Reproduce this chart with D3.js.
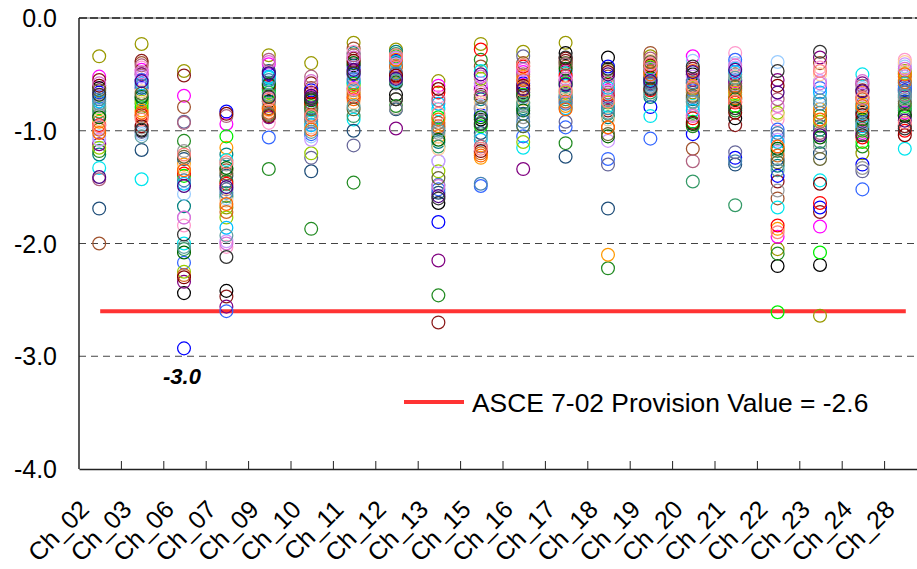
<!DOCTYPE html>
<html>
<head>
<meta charset="utf-8">
<script src="https://cdn.jsdelivr.net/npm/d3@7"></script>
<style>
  body { margin: 0; background: #fff; }
  svg { display: block; font-family: Arial, "Liberation Sans", sans-serif; }
</style>
</head>
<body>
<div id="chart"></div>
<script>
"use strict"

// Channels along the x axis
var categories = ["Ch_02", "Ch_03", "Ch_06", "Ch_07", "Ch_09", "Ch_10", "Ch_11", "Ch_12", "Ch_13", "Ch_15",
                  "Ch_16", "Ch_17", "Ch_18", "Ch_19", "Ch_20", "Ch_21", "Ch_22", "Ch_23", "Ch_24", "Ch_28"];

var yTicks = [0, -1, -2, -3, -4];

// ASCE provision value (red reference line)
var provisionValue = -2.6;
var provisionLabel = "ASCE 7-02 Provision Value = -2.6";
var minLabel = "-3.0";
var minCategory = "Ch_06";

// One value per series (36 series) for each channel
var ch02 = [-0.34, -0.52, -2.00, -0.55, -0.62, -0.66, -1.21, -1.18, -0.92, -1.33, -1.12, -0.98, -1.05, -1.69, -0.80, -0.70, -0.95, -0.86,
            -1.15, -0.83, -1.08, -0.90, -0.78, -0.74, -1.43, -0.99, -0.88, -0.72, -0.60, -1.02, -0.58, -0.64, -0.76, -1.41, -0.96, -0.68];
var ch03 = [-0.23, -0.46, -0.40, -0.38, -1.00, -0.62, -0.72, -0.76, -0.82, -1.43, -0.50, -0.44, -1.03, -1.17, -0.79, -0.55, -0.86, -1.01,
            -0.74, -0.69, -0.52, -0.65, -0.97, -0.58, -0.42, -0.88, -0.70, -0.60, -0.96, -0.84, -0.48, -0.67, -1.05, -0.56, -0.90, -0.99];
var ch06 = [-0.47, -0.69, -0.79, -0.51, -2.44, -2.93, -1.67, -1.09, -1.30, -2.00, -2.34, -1.84, -1.56, -1.25, -1.40, -2.17, -1.38, -0.92,
            -2.25, -2.05, -1.77, -1.32, -1.18, -1.47, -0.93, -2.28, -2.08, -1.44, -2.30, -1.35, -1.77, -1.23, -2.03, -1.49, -1.21, -1.92];
var ch07 = [-1.68, -0.94, -1.35, -2.47, -2.42, -0.83, -1.21, -1.45, -1.15, -1.26, -2.56, -2.03, -1.60, -1.40, -1.05, -2.60, -1.47, -1.52,
            -1.77, -1.58, -1.98, -1.62, -1.30, -1.86, -0.87, -1.72, -1.33, -1.55, -0.85, -1.65, -2.00, -1.38, -1.93, -1.50, -1.28, -2.12];
var ch09 = [-0.33, -0.41, -0.80, -0.62, -0.74, -0.50, -0.64, -1.34, -0.78, -0.53, -0.88, -0.93, -0.57, -0.47, -0.66, -1.06, -0.60, -0.85,
            -0.69, -0.58, -0.71, -0.82, -0.76, -0.52, -0.37, -0.84, -0.59, -0.55, -0.87, -0.81, -0.39, -0.86, -0.68, -0.49, -0.72, -0.70];
var ch10 = [-0.40, -0.70, -0.62, -0.58, -0.75, -0.64, -0.80, -1.87, -0.92, -0.82, -0.72, -0.68, -1.05, -1.36, -0.78, -1.03, -0.76, -1.24,
            -1.20, -0.88, -1.08, -0.97, -0.84, -0.95, -0.52, -0.86, -0.73, -0.90, -0.66, -0.99, -0.56, -0.81, -1.01, -0.69, -0.87, -0.71];
var ch11 = [-0.22, -0.62, -0.27, -0.36, -0.42, -0.50, -0.31, -1.46, -0.66, -0.90, -0.47, -0.30, -0.55, -1.00, -0.58, -0.44, -0.70, -1.13,
            -0.60, -0.87, -0.52, -0.75, -0.64, -0.57, -0.33, -0.68, -0.40, -0.54, -0.38, -0.72, -0.35, -0.81, -0.78, -0.46, -0.63, -0.49];
var ch12 = [-0.28, -0.45, -0.50, -0.40, -0.68, -0.38, -0.30, -0.78, -0.42, -0.55, -0.98, -0.47, -0.36, -0.81, -0.34, -0.44, -0.52, -0.58,
            -0.48, -0.32, -0.41, -0.46, -0.80, -0.39, -0.53, -0.43, -0.57, -0.49, -0.51, -0.37, -0.35, -0.72, -0.56, -0.54, -0.33, -0.72];
var ch13 = [-0.56, -0.60, -0.93, -2.70, -1.64, -1.81, -1.10, -2.46, -1.05, -0.81, -2.15, -0.70, -1.27, -1.55, -0.88, -1.52, -0.66, -0.98,
            -1.36, -1.14, -1.27, -1.16, -1.02, -0.76, -0.73, -0.96, -1.08, -1.48, -0.63, -0.90, -1.49, -1.42, -1.00, -1.58, -0.85, -1.60];
var ch15 = [-0.23, -0.61, -0.43, -0.68, -0.90, -0.86, -0.72, -0.37, -1.24, -0.47, -0.64, -0.66, -0.78, -1.02, -0.96, -1.49, -0.28, -0.81,
            -0.54, -0.93, -0.58, -0.75, -0.80, -1.08, -1.14, -1.20, -0.88, -1.47, -1.18, -1.22, -0.52, -0.70, -1.05, -0.50, -1.16, -0.94];
var ch16 = [-0.30, -0.48, -0.40, -0.62, -0.66, -0.58, -0.80, -0.75, -0.52, -1.15, -1.34, -0.45, -0.70, -0.85, -0.68, -1.05, -0.43, -0.34,
            -1.10, -0.78, -0.56, -0.72, -0.88, -0.96, -0.50, -0.64, -0.82, -0.92, -0.60, -0.55, -0.46, -0.96, -0.76, -0.63, -0.42, -0.69];
var ch17 = [-0.22, -0.47, -0.43, -0.38, -0.31, -0.70, -0.60, -1.11, -0.78, -0.49, -0.56, -0.52, -0.64, -1.23, -0.58, -0.97, -0.51, -0.92,
            -0.66, -0.72, -0.75, -0.62, -0.68, -0.80, -0.41, -0.74, -0.45, -0.76, -0.36, -0.81, -0.54, -0.40, -0.69, -0.59, -0.65, -0.35];
var ch18 = [-0.46, -0.64, -0.52, -0.82, -0.35, -0.43, -0.88, -2.22, -2.10, -0.78, -0.70, -0.60, -0.55, -1.69, -0.58, -1.25, -0.68, -1.30,
            -0.75, -0.85, -1.09, -0.90, -0.72, -0.62, -0.66, -0.97, -1.05, -0.80, -0.48, -0.97, -0.57, -1.03, -0.84, -0.50, -0.74, -0.45];
var ch19 = [-0.34, -0.52, -0.31, -0.47, -0.55, -0.79, -0.70, -0.44, -0.49, -0.87, -0.58, -0.40, -0.60, -0.62, -0.46, -1.07, -0.64, -0.57,
            -0.43, -0.66, -0.51, -0.38, -0.61, -0.55, -0.36, -0.48, -0.53, -0.59, -0.42, -0.50, -0.45, -0.39, -0.68, -0.56, -0.41, -0.63];
var ch20 = [-0.66, -0.34, -1.16, -0.45, -0.50, -1.03, -0.72, -0.96, -0.60, -0.78, -0.55, -0.86, -0.38, -0.58, -0.92, -0.64, -0.89, -0.70,
            -0.62, -1.45, -0.52, -0.68, -0.75, -0.82, -1.27, -0.63, -0.94, -0.57, -0.93, -0.47, -0.87, -0.69, -0.74, -0.48, -0.61, -0.43];
var ch21 = [-0.62, -0.56, -0.50, -0.95, -0.89, -1.24, -0.55, -0.82, -0.66, -0.45, -0.58, -0.31, -0.40, -1.30, -0.78, -0.37, -0.75, -1.19,
            -0.68, -1.66, -0.44, -0.52, -0.70, -0.48, -0.60, -0.64, -0.72, -1.27, -0.84, -0.71, -0.42, -0.61, -0.53, -0.46, -0.74, -0.80];
var ch22 = [-2.05, -1.94, -1.60, -1.45, -2.20, -1.40, -1.31, -2.09, -1.87, -1.68, -0.55, -0.90, -0.39, -1.25, -2.61, -0.99, -1.84, -1.05,
            -0.84, -1.18, -1.08, -0.86, -1.53, -1.10, -0.72, -1.22, -1.16, -1.02, -0.60, -1.14, -0.78, -1.28, -1.35, -0.66, -1.90, -0.47];
var ch23 = [-2.64, -1.85, -0.40, -1.72, -2.19, -1.68, -0.99, -0.87, -0.81, -1.44, -0.35, -0.44, -0.70, -1.20, -2.08, -0.62, -1.64, -0.96,
            -0.92, -1.10, -0.56, -0.50, -1.14, -0.66, -1.02, -0.84, -1.06, -0.76, -1.47, -0.90, -0.58, -1.25, -0.73, -1.04, -0.47, -0.30];
var ch24 = [-1.20, -1.02, -0.70, -0.64, -0.84, -1.30, -0.76, -1.14, -0.66, -0.50, -0.58, -0.88, -0.62, -0.92, -1.10, -1.52, -1.06, -1.36,
            -0.80, -0.98, -0.68, -0.74, -1.33, -0.96, -0.60, -0.72, -0.90, -0.82, -0.86, -0.78, -0.56, -1.00, -0.94, -0.65, -0.71, -1.04];
var ch28 = [-0.47, -0.84, -0.52, -0.96, -0.87, -0.64, -0.70, -0.82, -0.55, -1.16, -0.60, -0.37, -0.43, -0.74, -0.78, -0.62, -1.00, -0.66,
            -0.49, -0.80, -0.41, -0.39, -0.72, -0.58, -0.68, -0.57, -0.86, -0.65, -1.04, -0.50, -0.45, -0.76, -0.69, -0.91, -0.93, -0.98];

var columns = [ch02, ch03, ch06, ch07, ch09, ch10, ch11, ch12, ch13, ch15,
               ch16, ch17, ch18, ch19, ch20, ch21, ch22, ch23, ch24, ch28];

// series colours (index = series number)
var palette = ["#999900", "#ff00ff", "#a0522d", "#8b1a1a", "#000000", "#0000ff", "#008080", "#228b22", "#ff9900", "#00e5ee",
               "#800080", "#ff99cc", "#99ccff", "#1f4e79", "#00ee00", "#3366ff", "#ff0000", "#666699", "#99cc00", "#339966",
               "#cc99ff", "#ffcc99", "#999999", "#00bfff", "#b0607f", "#d2691e", "#006400", "#4682b4", "#800000", "#ff6600",
               "#da70d6", "#666633", "#5f9ea0", "#4b0082", "#ff8080", "#333333"];

var width = 917;
var height = 569;
var margin = { top: 18, right: -10, bottom: 100, left: 79 }; // plot runs a bit past the right edge
var plotW = width - margin.left - margin.right;
var plotH = height - margin.top - margin.bottom;

var xScale = d3.scaleBand().domain(categories).range([0, plotW]).padding(0);
var yScale = d3.scaleLinear().domain([-4, 0]).range([plotH, 0]);
var xMid = function (d) { return xScale(d) + xScale.bandwidth() / 2; };

var svg = d3.select("#chart").append("svg")
    .attr("width", width)
    .attr("height", height);

var g = svg.append("g")
    .attr("transform", "translate(" + margin.left + "," + margin.top + ")");

// top border (grey) under the 0.0 gridline
g.append("line")
    .attr("x1", 0).attr("x2", plotW)
    .attr("y1", yScale(0)).attr("y2", yScale(0))
    .attr("stroke", "#999").attr("stroke-width", 1.5);

// dashed gridlines
g.selectAll(".grid")
    .data(yTicks.filter(function (d) { return d > -4; }))
    .enter().append("line")
    .attr("class", "grid")
    .attr("x1", 0)
    .attr("x2", plotW)
    .attr("y1", function (d) { return yScale(d); })
    .attr("y2", function (d) { return yScale(d); })
    .attr("stroke", function (d) { return d === 0 ? "#222" : "#444"; })
    .attr("stroke-width", function (d) { return d === 0 ? 1.5 : 1; })
    .attr("stroke-dasharray", function (d) { return d === 0 ? "8,3" : "7,5"; });

// y labels
g.selectAll(".ylab")
    .data(yTicks)
    .enter().append("text")
    .attr("class", "ylab")
    .attr("x", -22)
    .attr("y", function (d) { return yScale(d); })
    .attr("dy", "0.36em")
    .attr("text-anchor", "end")
    .style("font-size", "25px")
    .text(function (d) { return d3.format(".1f")(d).replace("−", "-"); });

// axes lines
g.append("line")
    .attr("x1", 0).attr("x2", 0)
    .attr("y1", 0).attr("y2", plotH)
    .attr("stroke", "#222").attr("stroke-width", 1.5);

var xAxis = d3.axisBottom(xScale).tickSize(0).tickFormat("");
g.append("g")
    .attr("class", "x axis")
    .attr("transform", "translate(0," + plotH + ")")
    .call(xAxis)
    .select(".domain")
    .attr("stroke", "#222")
    .attr("stroke-width", 1.5);

// tick marks sit between categories, pointing up into the plot
g.selectAll(".xtick")
    .data(categories.slice(1))
    .enter().append("line")
    .attr("class", "xtick")
    .attr("x1", function (d) { return xScale(d); })
    .attr("x2", function (d) { return xScale(d); })
    .attr("y1", plotH)
    .attr("y2", plotH - 8)
    .attr("stroke", "#222")
    .attr("stroke-width", 1);

// rotated category labels (end of text sits a little left of the channel centre)
g.selectAll(".xlab")
    .data(categories)
    .enter().append("text")
    .attr("class", "xlab")
    .attr("text-anchor", "end")
    .style("font-size", "25px")
    .attr("transform", function (d) {
        return "translate(" + (xMid(d) - 9.5) + "," + (plotH + 42) + ") rotate(-45)";
    })
    .text(function (d) { return d; });

// red provision line
var first = categories[0], last = categories[categories.length - 1];
g.append("line")
    .attr("x1", xMid(first))
    .attr("x2", xMid(last))
    .attr("y1", yScale(provisionValue))
    .attr("y2", yScale(provisionValue))
    .attr("stroke", "#ff3333")
    .attr("stroke-width", 4);

// points: one circle per series per channel
var points = [];
columns.forEach(function (vals, ci) {
    vals.forEach(function (v, si) {
        points.push({ cat: categories[ci], value: v, series: si });
    });
});

g.selectAll(".pt")
    .data(points)
    .enter().append("circle")
    .attr("class", "pt")
    .attr("cx", function (d) { return xMid(d.cat) - 1; })
    .attr("cy", function (d) { return yScale(d.value); })
    .attr("r", 6.4)
    .attr("fill", "none")
    .attr("stroke", function (d) { return palette[d.series % palette.length]; })
    .attr("stroke-width", 1.25);

// minimum annotation
g.append("text")
    .attr("x", xMid(minCategory) - 3)
    .attr("y", yScale(-3) + 28)
    .attr("text-anchor", "middle")
    .style("font-size", "22px")
    .style("font-weight", "bold")
    .style("font-style", "italic")
    .text(minLabel);

// legend
var legend = g.append("g").attr("transform", "translate(" + (404 - margin.left) + "," + (402 - margin.top) + ")");
legend.append("line")
    .attr("x1", 0).attr("x2", 60)
    .attr("y1", 0).attr("y2", 0)
    .attr("stroke", "#ff3333")
    .attr("stroke-width", 4);
legend.append("text")
    .attr("x", 68)
    .attr("y", 0)
    .attr("dy", "0.36em")
    .style("font-size", "26.4px")
    .text(provisionLabel);
</script>
</body>
</html>
